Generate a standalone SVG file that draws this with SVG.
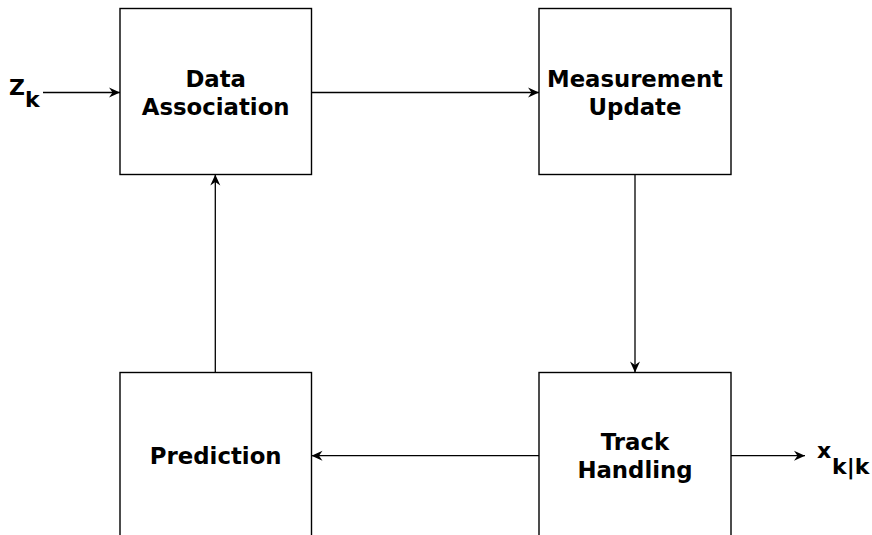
<svg xmlns="http://www.w3.org/2000/svg" width="872" height="535" viewBox="0 0 872 535">
  <style>
    .box { fill: #ffffff; stroke: #000000; stroke-width: 1.4; }
    .wire { fill: none; stroke: #000000; stroke-width: 1.3; marker-end: url(#head); }
    .lbl { font-family: "DejaVu Sans", "Liberation Sans", sans-serif; font-weight: bold; font-size: 22.8px; fill: #000000; text-anchor: middle; }
    .sym { font-family: "DejaVu Sans", "Liberation Sans", sans-serif; font-weight: bold; fill: #000000; }
  </style>
  <defs>
    <marker id="head" markerUnits="userSpaceOnUse" markerWidth="14" markerHeight="12" viewBox="-12 -6 14 12" refX="0" refY="0" orient="auto">
      <path d="M0,0 L-11,-5 L-7.5,0 L-11,5 Z" fill="#000000"/>
    </marker>
  </defs>
  <rect width="872" height="535" fill="#ffffff"/>

  <!-- blocks -->
  <g id="data-association">
    <rect class="box" x="120" y="8.5" width="191.5" height="166"/>
    <text class="lbl" x="215.7" y="87">Data</text>
    <text class="lbl" x="215.7" y="115">Association</text>
  </g>
  <g id="measurement-update">
    <rect class="box" x="539" y="8.5" width="192" height="166"/>
    <text class="lbl" x="635" y="87" textLength="176" lengthAdjust="spacingAndGlyphs">Measurement</text>
    <text class="lbl" x="635" y="115">Update</text>
  </g>
  <g id="prediction">
    <rect class="box" x="120" y="372.5" width="191.5" height="166"/>
    <text class="lbl" x="215.7" y="464">Prediction</text>
  </g>
  <g id="track-handling">
    <rect class="box" x="539" y="372.5" width="192" height="166"/>
    <text class="lbl" x="635" y="450">Track</text>
    <text class="lbl" x="635" y="478">Handling</text>
  </g>

  <!-- input and output symbols -->
  <g id="input-z">
    <text class="sym" x="9" y="94.5" font-size="22">Z</text>
    <text class="sym" x="25" y="106.5" font-size="22">k</text>
  </g>
  <g id="output-x">
    <text class="sym" x="817" y="457.5" font-size="22">x</text>
    <text class="sym" x="832" y="473.5" font-size="22">k|k</text>
  </g>

  <!-- connectors -->
  <g id="connectors">
    <line class="wire" x1="43" y1="92.5" x2="120" y2="92.5"/>
    <line class="wire" x1="311.5" y1="92.5" x2="539" y2="92.5"/>
    <line class="wire" x1="635" y1="174.5" x2="635" y2="372.5"/>
    <line class="wire" x1="539" y1="455.7" x2="311.5" y2="455.7"/>
    <line class="wire" x1="215.3" y1="372.5" x2="215.3" y2="174.5"/>
    <line class="wire" x1="731" y1="455.7" x2="805" y2="455.7"/>
  </g>
</svg>
